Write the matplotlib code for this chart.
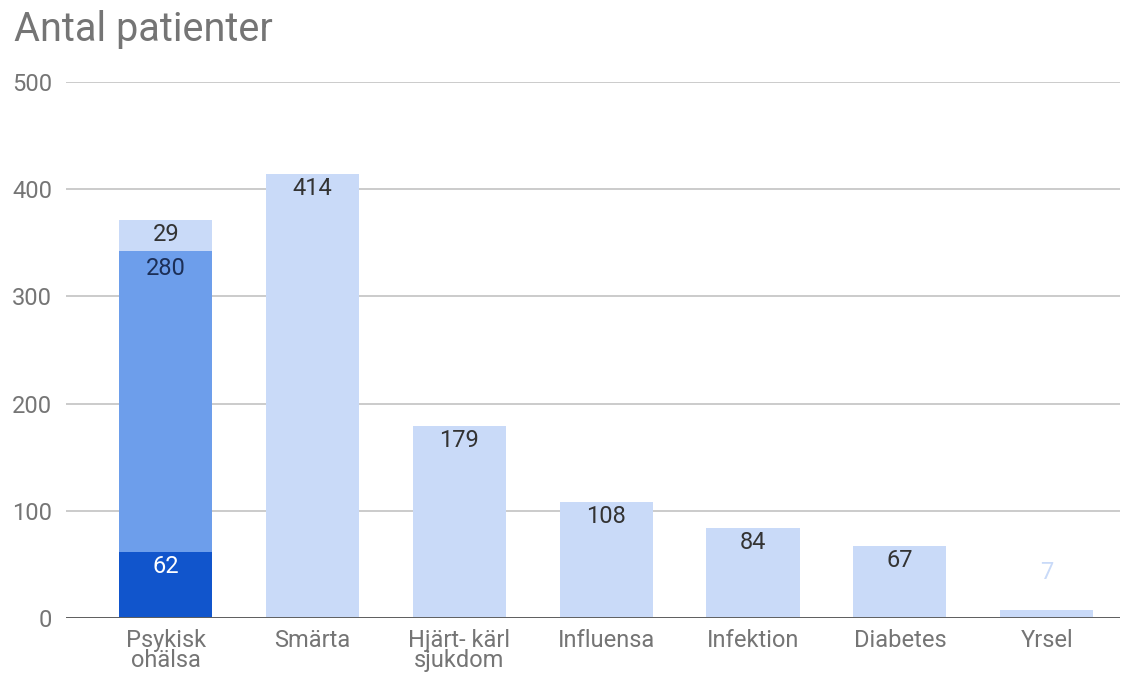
import matplotlib.pyplot as plt
import numpy as np

plt.rcParams['font.family'] = ['Roboto', 'DejaVu Sans']

categories = ["Psykisk\nohälsa", "Smärta", "Hjärt- kärl\nsjukdom", "Influensa",
              "Infektion", "Diabetes", "Yrsel"]
# three stacked series (only the first category uses all three)
series_dark = [62, 0, 0, 0, 0, 0, 0]
series_mid = [280, 0, 0, 0, 0, 0, 0]
series_light = [29, 414, 179, 108, 84, 67, 7]
yticks = [0, 100, 200, 300, 400, 500]

c_dark = "#1155cc"
c_mid = "#6d9eeb"
c_light = "#c9daf8"
grey = "#757575"


def main():
    fig = plt.figure(figsize=(11.36, 6.78), dpi=100)
    ax = fig.add_axes([0.058, 0.0885, 0.928, 0.7905])

    x = np.arange(len(categories))
    w = 0.635
    dark = np.array(series_dark)
    mid = np.array(series_mid)
    light = np.array(series_light)

    ax.bar(x, dark, w, color=c_dark, zorder=3)
    ax.bar(x, mid, w, bottom=dark, color=c_mid, zorder=3)
    ax.bar(x, light, w, bottom=dark + mid, color=c_light, zorder=3)

    def label(xi, top, val, color, dy=-10.5):
        ax.annotate(str(val), (xi, top), xytext=(0, dy), textcoords="offset points",
                    ha="center", va="center", fontsize=17, color=color, zorder=4)

    for i in range(len(categories)):
        if dark[i] > 0:
            label(x[i], dark[i], dark[i], "white", dy=-11)
        if mid[i] > 0:
            label(x[i], dark[i] + mid[i], mid[i], "#1c2f57", dy=-12.5)
        if light[i] > 0:
            top = dark[i] + mid[i] + light[i]
            if light[i] < 20:
                label(x[i], top, light[i], c_light, dy=27)
            else:
                label(x[i], top, light[i], "#333333")

    ax.set_xlim(-0.68, 6.5)
    ax.set_ylim(0, 500)
    ax.set_yticks(yticks)
    ax.set_xticks(x)
    ax.set_xticklabels(categories, linespacing=0.85)
    ax.tick_params(axis="y", length=0, pad=10, labelsize=17, labelcolor=grey)
    ax.tick_params(axis="x", length=0, pad=8, labelsize=17, labelcolor=grey)

    for s in ax.spines.values():
        s.set_visible(False)
    ax.grid(axis="y", color="#bdbdbd", linewidth=1.1, zorder=0)
    ax.axhline(0, color="#5f5f5f", linewidth=1.4, zorder=5)

    fig.text(0.012, 0.956, "Antal patienter", fontsize=28.5, color=grey,
             ha="left", va="center")

    fig.savefig("out.png", dpi=100)


if __name__ == '__main__':
    main()
